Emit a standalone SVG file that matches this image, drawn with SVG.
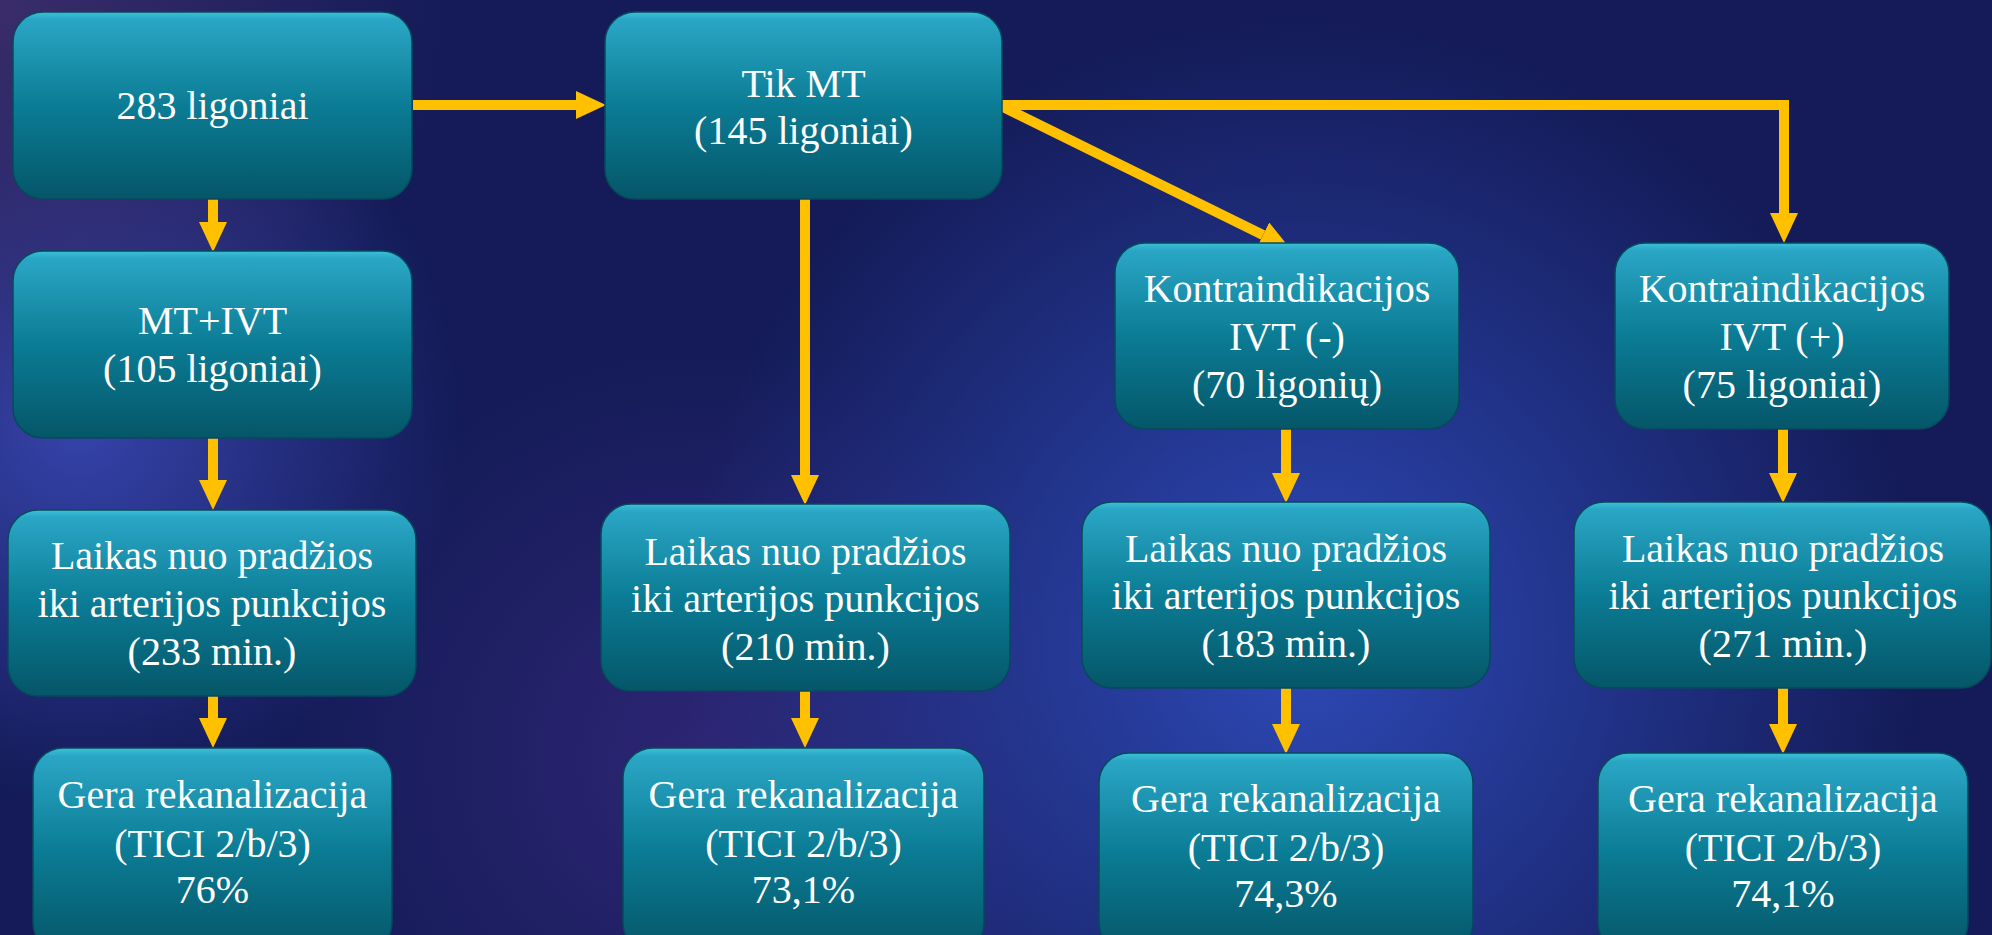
<svg xmlns="http://www.w3.org/2000/svg" width="1992" height="935" viewBox="0 0 1992 935">
  <defs>
    <style>
      .box { fill: url(#boxGrad); stroke: #07495c; stroke-width: 1.5; }
      .lbl { font-family: "Liberation Serif", "Times New Roman", "DejaVu Serif", "Noto Serif", Times, serif; font-size: 40px; fill: #ffffff; text-anchor: middle; }
      .conn { fill: none; stroke: #ffc000; stroke-width: 10; stroke-linejoin: miter; marker-end: url(#arrow); }
    </style>
    <linearGradient id="boxGrad" x1="0" y1="0" x2="0" y2="1">
      <stop offset="0" stop-color="#3cc0d8"/>
      <stop offset="0.04" stop-color="#2aa6c5"/>
      <stop offset="0.5" stop-color="#0b7c95"/>
      <stop offset="1" stop-color="#055668"/>
    </linearGradient>
    <radialGradient id="bgBlue" cx="1300" cy="640" r="620" gradientUnits="userSpaceOnUse">
      <stop offset="0" stop-color="#2f4cbc" stop-opacity="0.95"/>
      <stop offset="1" stop-color="#2f4cbc" stop-opacity="0"/>
    </radialGradient>
    <radialGradient id="bgLeft" cx="80" cy="420" r="380" gradientUnits="userSpaceOnUse">
      <stop offset="0" stop-color="#3a48b4" stop-opacity="0.9"/>
      <stop offset="1" stop-color="#3a48b4" stop-opacity="0"/>
    </radialGradient>
    <radialGradient id="bgPurple" cx="0" cy="0" r="450" gradientUnits="userSpaceOnUse">
      <stop offset="0" stop-color="#3e2e6c" stop-opacity="0.9"/>
      <stop offset="1" stop-color="#3e2e6c" stop-opacity="0"/>
    </radialGradient>
    <radialGradient id="bgMidPurple" cx="700" cy="760" r="420" gradientUnits="userSpaceOnUse">
      <stop offset="0" stop-color="#33287a" stop-opacity="0.8"/>
      <stop offset="1" stop-color="#33287a" stop-opacity="0"/>
    </radialGradient>
    <marker id="arrow" viewBox="0 0 30 28" markerWidth="30" markerHeight="28" markerUnits="userSpaceOnUse" refX="0" refY="14" orient="auto">
      <path d="M0,0 L30,14 L0,28 Z" fill="#ffc000"/>
    </marker>
  </defs>

  <g id="background">
    <rect x="0" y="0" width="1992" height="935" fill="#141b58"/>
    <rect x="0" y="0" width="1992" height="935" fill="url(#bgMidPurple)"/>
    <rect x="0" y="0" width="1992" height="935" fill="url(#bgBlue)"/>
    <rect x="0" y="0" width="1992" height="935" fill="url(#bgLeft)"/>
    <rect x="0" y="0" width="1992" height="935" fill="url(#bgPurple)"/>
  </g>

  <g id="connectors">
    <path class="conn" d="M413,105 L576,105"/>
    <path class="conn" d="M213,199 L213,222"/>
    <path class="conn" d="M213,438 L213,480"/>
    <path class="conn" d="M213,696 L213,718"/>
    <path class="conn" d="M805,199 L805,475"/>
    <path class="conn" d="M805,691 L805,718"/>
    <path class="conn" d="M1002,105 L1784,105 L1784,213"/>
    <path class="conn" d="M1003,107 L1263,235"/>
    <path class="conn" d="M1286,429 L1286,473"/>
    <path class="conn" d="M1783,429 L1783,473"/>
    <path class="conn" d="M1286,688 L1286,724"/>
    <path class="conn" d="M1783,688 L1783,724"/>
  </g>

  <g font-family="Liberation Serif, Times New Roman, DejaVu Serif, serif">
  <g id="n-283">
    <rect class="box" x="13" y="12" width="399" height="187" rx="30"/>
    <text class="lbl" x="212.5" y="119">283 ligoniai</text>
  </g>
  <g id="n-tikmt">
    <rect class="box" x="605" y="12" width="397" height="187" rx="30"/>
    <text class="lbl" x="803.5" y="97">Tik MT</text>
    <text class="lbl" x="803.5" y="144">(145 ligoniai)</text>
  </g>
  <g id="n-mtivt">
    <rect class="box" x="13" y="251" width="399" height="187" rx="30"/>
    <text class="lbl" x="212.5" y="334">MT+IVT</text>
    <text class="lbl" x="212.5" y="382">(105 ligoniai)</text>
  </g>
  <g id="n-kontra-minus">
    <rect class="box" x="1115" y="243" width="344" height="186" rx="30"/>
    <text class="lbl" x="1287" y="302">Kontraindikacijos</text>
    <text class="lbl" x="1287" y="350">IVT (-)</text>
    <text class="lbl" x="1287" y="398">(70 ligonių)</text>
  </g>
  <g id="n-kontra-plus">
    <rect class="box" x="1615" y="243" width="334" height="186" rx="30"/>
    <text class="lbl" x="1782" y="302">Kontraindikacijos</text>
    <text class="lbl" x="1782" y="350">IVT (+)</text>
    <text class="lbl" x="1782" y="398">(75 ligoniai)</text>
  </g>
  <g id="n-laikas1">
    <rect class="box" x="8" y="510" width="408" height="186" rx="30"/>
    <text class="lbl" x="212" y="569">Laikas nuo pradžios</text>
    <text class="lbl" x="212" y="617">iki arterijos punkcijos</text>
    <text class="lbl" x="212" y="665">(233 min.)</text>
  </g>
  <g id="n-laikas2">
    <rect class="box" x="601" y="504" width="409" height="187" rx="30"/>
    <text class="lbl" x="805.5" y="565">Laikas nuo pradžios</text>
    <text class="lbl" x="805.5" y="612">iki arterijos punkcijos</text>
    <text class="lbl" x="805.5" y="660">(210 min.)</text>
  </g>
  <g id="n-laikas3">
    <rect class="box" x="1082" y="502" width="408" height="186" rx="30"/>
    <text class="lbl" x="1286" y="562">Laikas nuo pradžios</text>
    <text class="lbl" x="1286" y="609">iki arterijos punkcijos</text>
    <text class="lbl" x="1286" y="657">(183 min.)</text>
  </g>
  <g id="n-laikas4">
    <rect class="box" x="1574" y="502" width="417" height="186" rx="30"/>
    <text class="lbl" x="1783" y="562">Laikas nuo pradžios</text>
    <text class="lbl" x="1783" y="609">iki arterijos punkcijos</text>
    <text class="lbl" x="1783" y="657">(271 min.)</text>
  </g>
  <g id="n-gera1">
    <rect class="box" x="33" y="748" width="359" height="205" rx="30"/>
    <text class="lbl" x="212.5" y="808">Gera rekanalizacija</text>
    <text class="lbl" x="212.5" y="857">(TICI 2/b/3)</text>
    <text class="lbl" x="212.5" y="903">76%</text>
  </g>
  <g id="n-gera2">
    <rect class="box" x="623" y="748" width="361" height="205" rx="30"/>
    <text class="lbl" x="803.5" y="808">Gera rekanalizacija</text>
    <text class="lbl" x="803.5" y="857">(TICI 2/b/3)</text>
    <text class="lbl" x="803.5" y="903">73,1%</text>
  </g>
  <g id="n-gera3">
    <rect class="box" x="1099" y="753" width="374" height="200" rx="30"/>
    <text class="lbl" x="1286" y="812">Gera rekanalizacija</text>
    <text class="lbl" x="1286" y="861">(TICI 2/b/3)</text>
    <text class="lbl" x="1286" y="907">74,3%</text>
  </g>
  <g id="n-gera4">
    <rect class="box" x="1598" y="753" width="370" height="200" rx="30"/>
    <text class="lbl" x="1783" y="812">Gera rekanalizacija</text>
    <text class="lbl" x="1783" y="861">(TICI 2/b/3)</text>
    <text class="lbl" x="1783" y="907">74,1%</text>
  </g>
  </g>
</svg>
